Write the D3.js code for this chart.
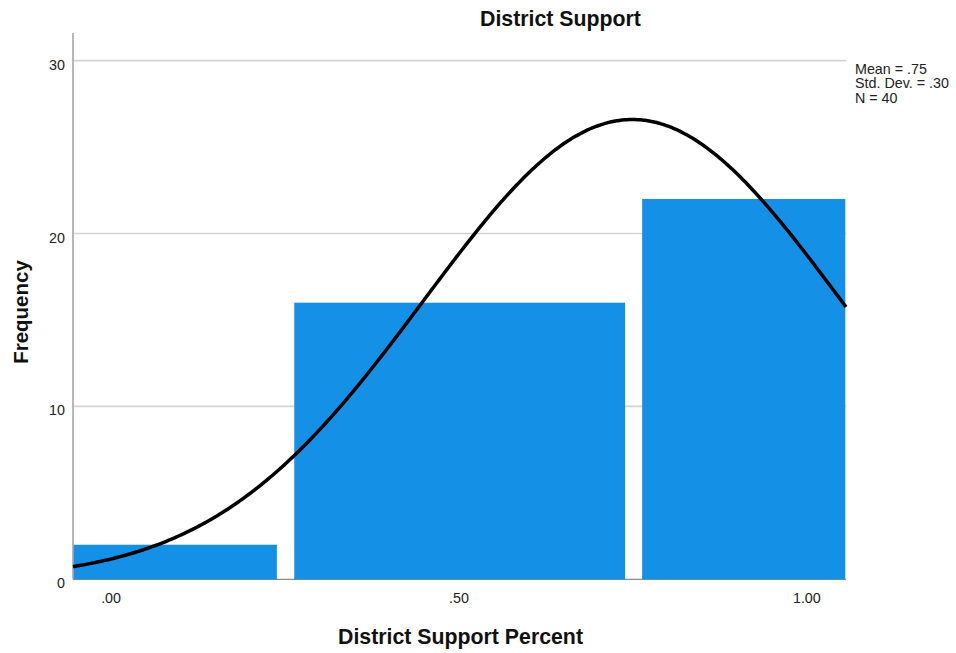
<!DOCTYPE html>
<html>
<head>
<meta charset="utf-8">
<script src="https://cdn.jsdelivr.net/npm/d3@7"></script>
<style>
  html, body { margin: 0; padding: 0; background: #fff; }
  svg { display: block; font-family: "Liberation Sans", Arial, sans-serif; }
</style>
</head>
<body>
<svg id="chart" width="956" height="653"></svg>
<script>
// Histogram bins of District Support Percent (bin edges in data units) and counts
const binStart = [-0.054, 0.264, 0.764];
const binEnd   = [0.239, 0.7395, 1.056];
const counts   = [2, 16, 22];

// Summary statistics for the fitted normal curve
const mean = 0.75;
const stdDev = 0.30;
const n = 40;
const curveBinWidth = 0.5;

// Axis ticks
const xTicks = [0, 0.5, 1.0];
const yTicks = [0, 10, 20, 30];
const xDomain = [-0.054, 1.057];
const yDomain = [0, 31.6];

const legendLines = ["Mean = .75", "Std. Dev. = .30", "N = 40"];

const svg = d3.select("#chart");
const plotL = 73, plotR = 846, plotT = 33, plotB = 579.3;

const x = d3.scaleLinear().domain(xDomain).range([plotL, plotR]);
const y = d3.scaleLinear().domain(yDomain).range([plotB, plotT]);

const fmtX = v => d3.format(".2f")(v).replace(/^0\./, ".");

// gridlines
svg.append("g")
  .selectAll("line")
  .data(yTicks.filter(t => t > 0))
  .join("line")
  .attr("x1", plotL).attr("x2", plotR)
  .attr("y1", d => y(d)).attr("y2", d => y(d))
  .attr("stroke", "#d4d4d4")
  .attr("stroke-width", 1.6);

// x baseline
svg.append("line")
  .attr("x1", plotL).attr("x2", plotR)
  .attr("y1", plotB).attr("y2", plotB)
  .attr("stroke", "#8c8c8c").attr("stroke-width", 1.2);

// bars
const bins = counts.map((c, i) => ({ x0: binStart[i], x1: binEnd[i], count: c }));
svg.append("g")
  .selectAll("rect")
  .data(bins)
  .join("rect")
  .attr("x", d => x(d.x0))
  .attr("width", d => x(d.x1) - x(d.x0))
  .attr("y", d => y(d.count))
  .attr("height", d => y(0) - y(d.count))
  .attr("fill", "#1490e6");

// y axis line
svg.append("line")
  .attr("x1", plotL).attr("x2", plotL)
  .attr("y1", plotT).attr("y2", plotB)
  .attr("stroke", "#a6a6a6").attr("stroke-width", 1.6);

// y axis labels
const yAxis = svg.append("g")
  .attr("transform", `translate(${plotL},0)`)
  .call(d3.axisLeft(y).tickValues(yTicks).tickSize(0).tickPadding(8).tickFormat(d3.format("d")));
yAxis.select(".domain").remove();
yAxis.selectAll("text")
  .attr("dy", "8.5px")
  .attr("font-size", 14.3)
  .attr("font-family", "Liberation Sans, Arial, sans-serif")
  .attr("fill", "#222");

// x axis labels
const xAxis = svg.append("g")
  .attr("transform", `translate(0,${plotB})`)
  .call(d3.axisBottom(x).tickValues(xTicks).tickSize(0).tickPadding(14).tickFormat(fmtX));
xAxis.select(".domain").remove();
xAxis.selectAll("text")
  .attr("dy", "10px")
  .attr("font-size", 14.3)
  .attr("font-family", "Liberation Sans, Arial, sans-serif")
  .attr("fill", "#222");

// fitted normal curve
const pdf = v => Math.exp(-0.5 * ((v - mean) / stdDev) ** 2) / (stdDev * Math.sqrt(2 * Math.PI));
const samples = d3.range(0, 301).map(i => xDomain[0] + (xDomain[1] - xDomain[0]) * i / 300);
svg.append("path")
  .datum(samples)
  .attr("fill", "none")
  .attr("stroke", "#000")
  .attr("stroke-width", 3.5)
  .attr("d", d3.line().x(d => x(d)).y(d => y(n * curveBinWidth * pdf(d))).curve(d3.curveBasis));

// title
svg.append("text")
  .attr("x", 560.5).attr("y", 26)
  .attr("text-anchor", "middle")
  .attr("font-size", 21.3).attr("font-weight", "bold").attr("fill", "#111")
  .text("District Support");

// x title
svg.append("text")
  .attr("x", 460.5).attr("y", 644)
  .attr("text-anchor", "middle")
  .attr("font-size", 21.3).attr("font-weight", "bold").attr("fill", "#111")
  .text("District Support Percent");

// y title
svg.append("text")
  .attr("transform", "translate(28,312) rotate(-90)")
  .attr("text-anchor", "middle")
  .attr("font-size", 20.5).attr("font-weight", "bold").attr("fill", "#111")
  .text("Frequency");

// statistics legend
svg.append("g")
  .selectAll("text")
  .data(legendLines)
  .join("text")
  .attr("x", 855)
  .attr("y", (d, i) => 73.5 + i * 14.5)
  .attr("font-size", 14.3).attr("fill", "#222")
  .text(d => d);
</script>
</body>
</html>
